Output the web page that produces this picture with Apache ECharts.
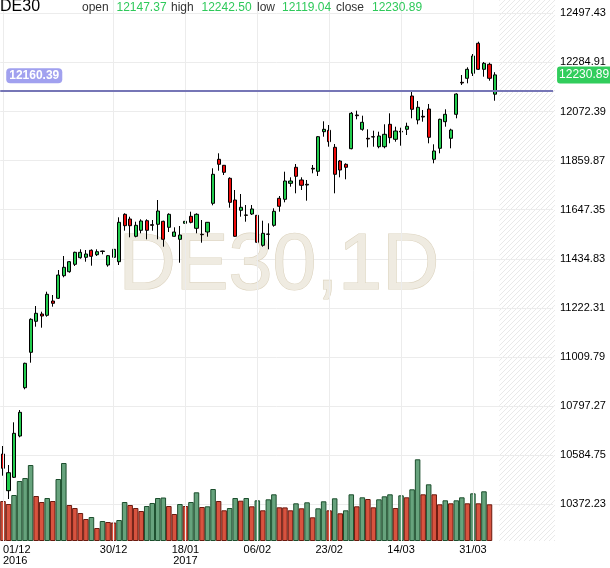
<!DOCTYPE html>
<html>
<head>
<meta charset="utf-8">
<script src="https://cdn.jsdelivr.net/npm/echarts@6.0.0/dist/echarts.min.js"></script>
<style>
html, body { margin: 0; padding: 0; background: #fff; }
#chart { width: 610px; height: 568px; }
</style>
</head>
<body>
<div id="chart"></div>
<script>
// DE30 daily, 01/12/2016 - 06/04/2017
var dates = [
    '2016-12-01','2016-12-02','2016-12-05','2016-12-06','2016-12-07','2016-12-08','2016-12-09','2016-12-12','2016-12-13','2016-12-14',
    '2016-12-15','2016-12-16','2016-12-19','2016-12-20','2016-12-21','2016-12-22','2016-12-23','2016-12-27','2016-12-28','2016-12-29',
    '2016-12-30','2017-01-02','2017-01-03','2017-01-04','2017-01-05','2017-01-06','2017-01-09','2017-01-10','2017-01-11','2017-01-12',
    '2017-01-13','2017-01-16','2017-01-17','2017-01-18','2017-01-19','2017-01-20','2017-01-23','2017-01-24','2017-01-25','2017-01-26',
    '2017-01-27','2017-01-30','2017-01-31','2017-02-01','2017-02-02','2017-02-03','2017-02-06','2017-02-07','2017-02-08','2017-02-09',
    '2017-02-10','2017-02-13','2017-02-14','2017-02-15','2017-02-16','2017-02-17','2017-02-20','2017-02-21','2017-02-22','2017-02-23',
    '2017-02-24','2017-02-27','2017-02-28','2017-03-01','2017-03-02','2017-03-03','2017-03-06','2017-03-07','2017-03-08','2017-03-09',
    '2017-03-10','2017-03-13','2017-03-14','2017-03-15','2017-03-16','2017-03-17','2017-03-20','2017-03-21','2017-03-22','2017-03-23',
    '2017-03-24','2017-03-27','2017-03-28','2017-03-29','2017-03-30','2017-03-31','2017-04-03','2017-04-04','2017-04-05','2017-04-06'
]
var open = [
    10589.95, 10431.10, 10489.10, 10667.86, 10876.92, 11030.14, 11164.32, 11195.91, 11190.29, 11252.18,
    11263.87, 11361.69, 11379.00, 11411.03, 11439.60, 11441.33, 11471.63, 11452.58, 11468.60, 11408.00,
    11441.33, 11422.28, 11627.45, 11607.10, 11532.22, 11558.19, 11599.74, 11582.43, 11584.16, 11597.15,
    11571.18, 11532.22, 11519.24, 11588.49, 11618.79, 11566.85, 11540.88, 11550.83, 11675.06, 11865.50,
    11839.53, 11783.26, 11689.34, 11644.76, 11624.42, 11628.74, 11623.12, 11493.27, 11542.18, 11579.83,
    11696.70, 11692.37, 11761.62, 11830.88, 11775.91, 11757.29, 11826.55, 11813.56, 11984.96, 11991.02,
    11917.44, 11858.14, 11843.86, 11911.38, 12057.25, 11995.35, 11956.40, 11963.32, 11920.04, 11920.04,
    12016.99, 11952.07, 11986.69, 11995.35, 12139.48, 12035.60, 12051.62, 12083.22, 11865.50, 11913.11,
    12028.25, 11956.40, 12060.28, 12198.78, 12216.09, 12237.74, 12367.58, 12255.05, 12276.69, 12147.37
]
var high = [
    10624.58, 10542.34, 10727.16, 10780.40, 10985.13, 11177.30, 11230.54, 11205.87, 11292.44, 11278.15,
    11386.36, 11446.96, 11425.31, 11465.57, 11475.95, 11472.92, 11475.95, 11475.95, 11469.90, 11451.28,
    11478.55, 11614.46, 11631.77, 11617.06, 11595.42, 11605.80, 11605.80, 11602.77, 11689.34, 11599.74,
    11631.77, 11571.18, 11576.80, 11599.74, 11638.70, 11631.77, 11602.77, 11594.12, 11826.55, 11891.47,
    11840.83, 11787.59, 11732.62, 11715.31, 11667.70, 11667.70, 11675.06, 11599.74, 11588.49, 11653.41,
    11706.65, 11811.83, 11787.59, 11845.16, 11787.59, 11775.91, 11840.83, 11966.35, 12029.98, 12013.96,
    11931.72, 11862.47, 11848.19, 12070.23, 12075.86, 12054.22, 11995.35, 11989.29, 11984.96, 12016.99,
    12064.60, 12006.60, 12002.28, 12023.92, 12156.80, 12117.84, 12078.89, 12104.86, 11930.43, 12041.23,
    12081.92, 11997.95, 12151.17, 12230.38, 12263.71, 12321.27, 12374.51, 12286.65, 12283.62, 12242.50
]
var low = [
    10496.03, 10395.18, 10486.07, 10662.23, 10869.99, 10985.13, 11140.94, 11136.62, 11184.23, 11227.51,
    11260.84, 11354.76, 11374.67, 11403.67, 11435.27, 11422.28, 11404.97, 11446.96, 11454.31, 11400.64,
    11400.64, 11408.00, 11556.46, 11527.89, 11527.89, 11545.21, 11519.24, 11556.46, 11519.24, 11487.21,
    11550.83, 11530.49, 11417.96, 11526.16, 11588.49, 11545.21, 11504.52, 11530.49, 11666.40, 11816.16,
    11797.55, 11656.01, 11530.49, 11617.06, 11595.42, 11624.42, 11504.52, 11487.21, 11475.95, 11573.78,
    11638.70, 11679.38, 11746.91, 11718.34, 11732.62, 11686.31, 11804.91, 11793.22, 11963.32, 11920.04,
    11718.34, 11787.59, 11778.94, 11908.78, 12038.63, 11989.29, 11917.44, 11920.04, 11913.11, 11913.11,
    11934.75, 11941.68, 11924.37, 11970.68, 12042.96, 12016.99, 12028.25, 11934.75, 11848.19, 11891.47,
    12006.60, 11913.11, 12042.96, 12187.09, 12194.45, 12226.05, 12252.02, 12223.02, 12205.71, 12119.04
]
var close = [
    10528.06, 10509.01, 10679.55, 10770.44, 10982.53, 11172.97, 11198.94, 11187.26, 11281.18, 11242.23,
    11364.72, 11398.05, 11422.28, 11462.97, 11462.97, 11455.61, 11445.66, 11465.57, 11466.43, 11448.25,
    11475.95, 11592.82, 11578.10, 11578.10, 11579.83, 11598.45, 11558.19, 11579.83, 11641.73, 11519.24,
    11627.45, 11550.83, 11537.85, 11597.15, 11592.82, 11627.45, 11539.15, 11592.82, 11800.58, 11843.86,
    11809.23, 11679.38, 11532.22, 11657.74, 11623.12, 11650.39, 11506.25, 11545.21, 11540.88, 11640.43,
    11662.07, 11771.58, 11771.58, 11791.92, 11752.97, 11754.26, 11823.52, 11963.32, 11995.35, 11941.68,
    11800.58, 11819.19, 11830.88, 12064.60, 12054.22, 12025.65, 11953.37, 11962.02, 11966.35, 11973.71,
    11958.99, 11987.99, 11983.66, 12008.34, 12081.92, 12090.57, 12048.59, 11960.72, 11901.43, 12038.63,
    12060.28, 11992.32, 12148.14, 12195.75, 12255.05, 12312.62, 12255.05, 12281.02, 12216.09, 12230.89
]
// volume in thousands, last (running) day has none yet
var volume = [
    40.0, 37.0, 46.0, 60.0, 63.0, 76.0, 45.0, 39.0, 43.0, 40.0,
    62.0, 78.0, 36.0, 33.0, 28.0, 22.0, 24.0, 13.0, 20.0, 19.0,
    18.5, 21.0, 39.0, 36.0, 33.0, 30.0, 35.0, 38.0, 43.0, 43.5,
    35.0, 27.0, 37.0, 35.0, 39.0, 48.7, 34.0, 34.7, 52.0, 40.0,
    30.7, 33.0, 43.0, 40.3, 43.0, 34.7, 40.7, 30.7, 41.7, 46.7,
    33.7, 33.6, 30.7, 37.7, 32.7, 38.7, 23.7, 32.7, 39.7, 30.7,
    42.7, 27.7, 30.7, 46.7, 34.7, 43.7, 42.0, 33.7, 41.7, 44.7,
    46.7, 33.0, 45.7, 43.7, 51.7, 81.7, 46.7, 56.7, 46.7, 36.7,
    40.7, 37.7, 40.7, 43.7, 37.7, 47.7, 37.7, 49.7, 36.7, null
]
var yTicks = [10372.23, 10584.75, 10797.27, 11009.79, 11222.31, 11434.83, 11647.35, 11859.87, 12072.39, 12284.91, 12497.43]
var labelDates = ['2016-12-01', '2016-12-30', '2017-01-18', '2017-02-06', '2017-02-23', '2017-03-14', '2017-03-31']
var levelLine = 12160.39
var futureSlots = 10
var symbolName = 'DE30'
var period = '1D'

var FONT = '"Liberation Sans", Arial, sans-serif'
var priceMin = 10213.4
var priceMax = 12555.0
var volMax = 541

var categories = dates.slice()
for (var i = 0; i < futureSlots; i++) {
    categories.push('next-' + (i + 1))
}

var candles = dates.map(function (d, i) {
    return [open[i], close[i], low[i], high[i]]
})

var volUp = { color: '#67a37d', borderColor: '#1d4f2e', borderWidth: 1 }
var volDown = { color: '#d8533f', borderColor: '#6b1a0f', borderWidth: 1 }
var volData = volume.map(function (v, i) {
    if (v == null) return null
    var up = i > 0 && v > volume[i - 1]
    return { value: v, itemStyle: up ? volUp : volDown }
})

function dateLabel(value) {
    var idx = labelDates.indexOf(value)
    if (idx < 0) return ''
    var p = value.split('-')
    var txt = p[2] + '/' + p[1]
    if (idx === 0 || labelDates[idx - 1].slice(0, 4) !== p[0]) {
        txt += '\n' + p[0]
    }
    return txt
}

var last = dates.length - 1
var chart = echarts.init(document.getElementById('chart'))

var option = {
    animation: false,
    backgroundColor: '#fff',
    textStyle: { fontFamily: FONT },
    grid: { left: -1.73, right: 56.93, top: 0, bottom: 27 },
    xAxis: {
        type: 'category',
        data: categories,
        boundaryGap: true,
        axisLine: { show: false },
        axisTick: { show: false },
        splitLine: { show: false },
        axisLabel: {
            interval: function (index, value) { return labelDates.indexOf(value) >= 0 },
            formatter: dateLabel,
            alignMinLabel: 'left',
            color: '#000',
            fontSize: 11,
            lineHeight: 11,
            margin: 3,
            fontFamily: FONT
        }
    },
    yAxis: [
        {
            type: 'value',
            position: 'right',
            min: priceMin,
            max: priceMax,
            axisLine: { show: false },
            axisTick: { show: false, customValues: yTicks },
            splitLine: { show: true, lineStyle: { color: '#ececec', width: 1 } },
            axisLabel: {
                customValues: yTicks,
                formatter: function (v) { return v.toFixed(2) },
                color: '#000',
                fontSize: 11,
                margin: 7,
                fontFamily: FONT
            }
        },
        {
            type: 'value',
            min: 0,
            max: volMax,
            show: false
        }
    ],
    series: [
        {
            // vertical grid lines at the labelled dates
            type: 'line',
            data: [],
            z: 1,
            silent: true,
            markLine: {
                silent: true,
                symbol: 'none',
                label: { show: false },
                lineStyle: { color: '#ececec', width: 1, type: 'solid' },
                data: labelDates.map(function (d) { return { xAxis: d } })
            }
        },
        {
            name: 'Volume',
            type: 'bar',
            xAxisIndex: 0,
            yAxisIndex: 1,
            barWidth: '100%',
            barCategoryGap: 0,
            z: 2,
            data: volData
        },
        {
            name: symbolName,
            type: 'candlestick',
            xAxisIndex: 0,
            yAxisIndex: 0,
            barWidth: 3.6,
            z: 3,
            clip: false,
            itemStyle: {
                color: '#22cc4e',
                color0: '#ee0a0a',
                borderColor: '#000',
                borderColor0: '#000',
                borderWidth: 1
            },
            data: candles,
            markLine: {
                silent: true,
                symbol: 'none',
                data: [
                    {
                        yAxis: levelLine,
                        lineStyle: { color: '#7676b6', width: 2, type: 'solid' },
                        label: {
                            show: true,
                            position: 'insideStartTop',
                            distance: [6, 8],
                            formatter: function () { return levelLine.toFixed(2) },
                            color: '#fff',
                            backgroundColor: '#a1a1ef',
                            borderRadius: 4,
                            padding: [2, 3, 1, 3],
                            fontSize: 12,
                            fontWeight: 'bold',
                            fontFamily: FONT
                        }
                    },
                    {
                        yAxis: close[last],
                        lineStyle: { color: 'rgba(255,255,255,0)', width: 1 },
                        label: {
                            show: true,
                            position: 'end',
                            distance: 4,
                            formatter: function () { return close[last].toFixed(2) },
                            color: '#fff',
                            backgroundColor: '#31cd5c',
                            borderRadius: 3,
                            padding: [3, 4, 2, 2],
                            fontSize: 12,
                            fontFamily: FONT
                        }
                    }
                ]
            }
        }
    ]
}
chart.setOption(option)

// hatched "future" zone, header and watermark
var xLast = chart.convertToPixel({ xAxisIndex: 0 }, last)
var xNext = chart.convertToPixel({ xAxisIndex: 0 }, last + 1)
var yTop = chart.convertToPixel({ yAxisIndex: 0 }, priceMax)
var yBottom = chart.convertToPixel({ yAxisIndex: 0 }, priceMin)
var hatchLeft = (xLast + xNext) / 2 + 1.5

var tile = document.createElement('canvas')
tile.width = 5
tile.height = 5
var ctx = tile.getContext('2d')
ctx.strokeStyle = '#e9e9e9'
ctx.lineWidth = 1
ctx.beginPath()
ctx.moveTo(0, 5); ctx.lineTo(5, 0)
ctx.moveTo(-1, 1); ctx.lineTo(1, -1)
ctx.moveTo(4, 6); ctx.lineTo(6, 4)
ctx.stroke()

var header = [
    ['open', 82, '#333'], [open[last].toFixed(2), 116.5, '#2ec95a'],
    ['high', 171, '#333'], [high[last].toFixed(2), 201.5, '#2ec95a'],
    ['low', 257, '#333'], [low[last].toFixed(2), 282, '#2ec95a'],
    ['close', 336, '#333'], [close[last].toFixed(2), 372, '#2ec95a']
]

var graphics = [
    {
        type: 'rect',
        z: -1,
        silent: true,
        shape: { x: hatchLeft, y: yTop, width: 555 - hatchLeft, height: yBottom - yTop },
        style: { fill: { image: tile, repeat: 'repeat' } }
    },
    {
        type: 'text',
        z: 0,
        silent: true,
        style: {
            text: symbolName + ',' + period,
            x: 279,
            y: 267,
            align: 'center',
            verticalAlign: 'middle',
            font: '79px ' + FONT,
            fill: '#efebe1',
            stroke: '#ddd4c0',
            lineWidth: 1.2
        }
    },
    {
        type: 'text',
        z: 10,
        style: {
            text: symbolName,
            x: 0,
            y: 7,
            verticalAlign: 'middle',
            font: '16px ' + FONT,
            fill: '#000'
        }
    }
]
header.forEach(function (h) {
    graphics.push({
        type: 'text',
        z: 10,
        style: {
            text: h[0],
            x: h[1],
            y: 8,
            verticalAlign: 'middle',
            font: '12px ' + FONT,
            fill: h[2]
        }
    })
})
chart.setOption({ graphic: graphics })
</script>
</body>
</html>
